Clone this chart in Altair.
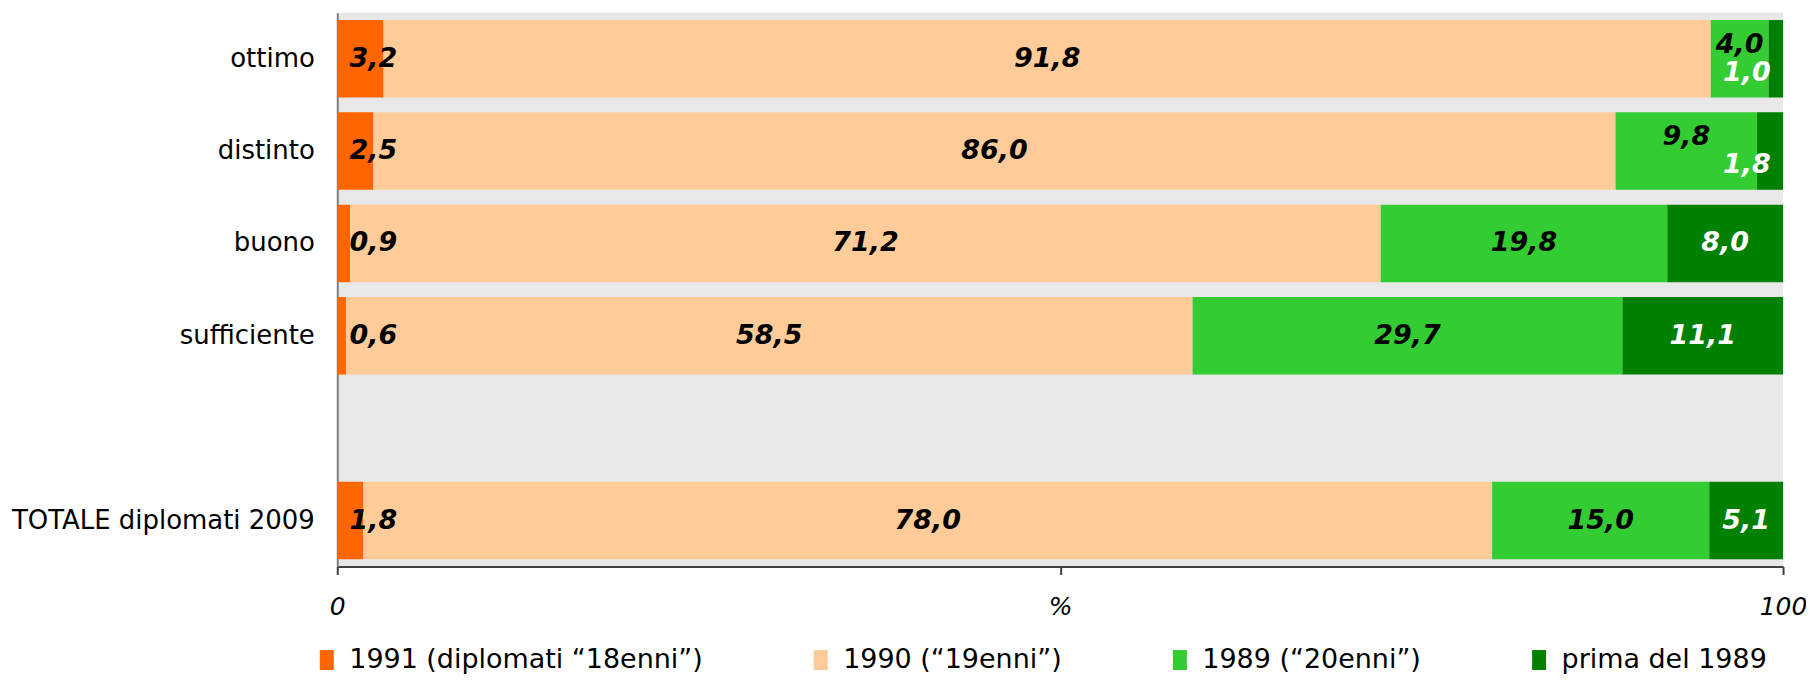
import altair as alt
import pandas as pd

categories = ["ottimo", "distinto", "buono", "sufficiente", "TOTALE diplomati 2009"]
y_domain = ["ottimo", "distinto", "buono", "sufficiente", " ", "TOTALE diplomati 2009"]
series = ["1991 (diplomati “18enni”)", "1990 (“19enni”)", "1989 (“20enni”)", "prima del 1989"]
v1991 = [3.2, 2.5, 0.9, 0.6, 1.8]
v1990 = [91.8, 86.0, 71.2, 58.5, 78.0]
v1989 = [4.0, 9.8, 19.8, 29.7, 15.0]
vprima = [1.0, 1.8, 8.0, 11.1, 5.1]
colors = ["#FF6600", "#FFCC99", "#33CC33", "#008000"]

rows = []
for s_i, (s, vals) in enumerate(zip(series, [v1991, v1990, v1989, vprima])):
    for c, v in zip(categories, vals):
        rows.append({"cat": c, "series": s, "order": s_i, "value": v})
df = pd.DataFrame(rows)

FONT = "DejaVu Sans"

y_enc = alt.Y(
    "cat:N",
    scale=alt.Scale(domain=y_domain, paddingInner=0.161, paddingOuter=0.0775),
    axis=alt.Axis(
        title=None, ticks=False, domainColor="#808080", domainWidth=2,
        labelFont=FONT, labelFontSize=26, labelColor="black", labelPadding=23,
        labelLimit=0,
    ),
)

x_scale = alt.Scale(domain=[0, 1], nice=False)

bars = alt.Chart(df).mark_bar().encode(
    x=alt.X(
        "value:Q", stack="normalize", scale=x_scale,
        axis=alt.Axis(
            title=None, values=[0, 0.5, 1], grid=False,
            labelExpr="datum.value == 0.5 ? '%' : format(datum.value * 100, 'd')",
            tickSize=8, tickWidth=2, tickColor="#404040",
            domainColor="#404040", domainWidth=2,
            labelFont=FONT, labelFontStyle="italic", labelFontSize=25,
            labelColor="black", labelPadding=20, labelFlush=False,
        ),
    ),
    y=y_enc,
    color=alt.Color(
        "series:N",
        scale=alt.Scale(domain=series, range=colors),
        legend=alt.Legend(
            title=None, orient="none", legendX=-24, legendY=635,
            direction="horizontal", columns=4, columnPadding=104,
            symbolType="M-0.7,-1H0.7V1H-0.7Z", symbolSize=400,
            symbolStrokeWidth=0, symbolOpacity=1,
            labelFont=FONT, labelFontSize=27, labelColor="black",
            labelOffset=9, padding=0, labelLimit=0,
        ),
    ),
    order=alt.Order("order:Q"),
)

base_lbl = (
    alt.Chart(df)
    .transform_joinaggregate(total="sum(value)", groupby=["cat"])
    .transform_window(cum="sum(value)", sort=[alt.SortField("order")], groupby=["cat"], frame=[None, 0])
    .transform_calculate(
        mid="(datum.cum - datum.value / 2) / datum.total",
        isdark="datum.order == 3 ? datum.value : 0",
        label="replace(format(datum.value, '.1f'), '.', ',')",
    )
    .transform_calculate(xpos="clamp(datum.mid, 0.025, 0.975)")
    .transform_joinaggregate(darkv="sum(isdark)", groupby=["cat"])
    .transform_calculate(
        shift="datum.darkv < 2 ? (datum.order == 2 ? 'up' : (datum.order == 3 ? 'down' : 'mid')) : 'mid'"
    )
)

def lbl_layer(kind, dy):
    return base_lbl.transform_filter(f"datum.shift == '{kind}'").mark_text(
        font=FONT, fontSize=27, fontWeight="bold", fontStyle="italic",
        align="center", baseline="middle", dy=dy,
    ).encode(
        x=alt.X("xpos:Q", scale=x_scale),
        y=alt.Y("cat:N", scale=alt.Scale(domain=y_domain)),
        text="label:N",
        color=alt.condition("datum.order == 3", alt.value("white"), alt.value("black")),
    )

chart = alt.layer(
    bars, lbl_layer("mid", 0), lbl_layer("up", -14), lbl_layer("down", 14)
).properties(
    width=1449, height=555,
    autosize=alt.AutoSizeParams(type="none"),
    padding={"left": 330, "top": 4, "right": 23, "bottom": 109},
).configure_view(fill="#E8E8E8", strokeWidth=0)

chart.save("out.html", embed_options={"renderer": "svg", "actions": False})
